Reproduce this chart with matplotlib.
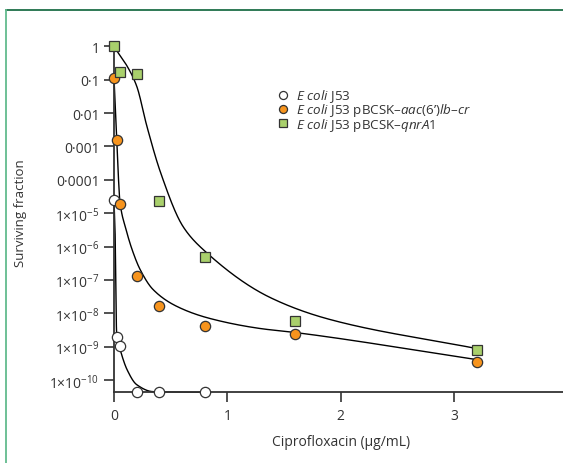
import numpy as np
import matplotlib
matplotlib.use("Agg")
import matplotlib.pyplot as plt
from matplotlib.lines import Line2D

plt.rcParams['font.family'] = ['Open Sans', 'DejaVu Sans']
plt.rcParams['mathtext.fontset'] = 'custom'
plt.rcParams['mathtext.rm'] = 'Open Sans'
plt.rcParams['mathtext.it'] = 'Open Sans:italic'

# ---- data ----
wt_x = [0, 0.025, 0.05, 0.2, 0.4, 0.8]
wt_y = [2.5e-5, 2.0e-9, 1.07e-9, 4.4e-11, 4.4e-11, 4.4e-11]

aac_x = [0, 0.025, 0.05, 0.2, 0.4, 0.8, 1.6, 3.2]
aac_y = [0.11, 1.6e-3, 1.9e-5, 1.3e-7, 1.7e-8, 4.2e-9, 2.5e-9, 3.6e-10]

qnr_x = [0, 0.05, 0.2, 0.4, 0.8, 1.6, 3.2]
qnr_y = [1.0, 0.17, 0.15, 2.3e-5, 4.8e-7, 5.9e-9, 8.0e-10]

# fitted curve knots (x, log10 y)
wt_fit_x = [0, 0.009, 0.024, 0.044, 0.115, 0.20, 0.344, 0.8]
wt_fit_ly = [-4.6, -5.48, -8.69, -8.96, -9.68, -10.13, -10.34, -10.36]

aac_fit_x = [0, 0.024, 0.053, 0.106, 0.159, 0.23, 0.344, 0.556, 0.847, 1.29, 1.6, 3.2]
aac_fit_ly = [-0.95, -2.78, -4.67, -5.48, -6.08, -6.68, -7.28, -7.79, -8.15, -8.45, -8.57, -9.38]

qnr_fit_x = [0, 0.026, 0.115, 0.20, 0.29, 0.41, 0.61, 0.785, 1.377, 1.906, 3.2]
qnr_fit_ly = [0, -0.14, -0.59, -1.19, -2.39, -3.77, -5.40, -6.08, -7.52, -8.18, -9.05]

ytick_vals = [1, 0.1, 0.01, 0.001, 1e-4, 1e-5, 1e-6, 1e-7, 1e-8, 1e-9, 1e-10]
ytick_labels = ["1", "0·1", "0·01", "0·001", "0·0001",
                r"1×10$^{-5}$", r"1×10$^{-6}$", r"1×10$^{-7}$", r"1×10$^{-8}$",
                r"1×10$^{-9}$", r"1×10$^{-10}$"]
xtick_vals = [0, 1, 2, 3, 4]
xtick_labels = ["0", "1", "2", "3", "4"]

labels = [r"$\mathit{E\ coli}$ J53",
          r"$\mathit{E\ coli}$ J53 pBCSK–$\mathit{aac(6’)lb–cr}$",
          r"$\mathit{E\ coli}$ J53 pBCSK–$\mathit{qnrA1}$"]


def pchip(x, y, xn):
    x = np.asarray(x, float); y = np.asarray(y, float)
    h = np.diff(x); d = np.diff(y) / h
    n = len(x); m = np.zeros(n)
    for k in range(1, n - 1):
        if d[k - 1] * d[k] > 0:
            w1 = 2 * h[k] + h[k - 1]; w2 = h[k] + 2 * h[k - 1]
            m[k] = (w1 + w2) / (w1 / d[k - 1] + w2 / d[k])
    m[0] = d[0]; m[-1] = d[-1]
    idx = np.clip(np.searchsorted(x, xn) - 1, 0, n - 2)
    t = (xn - x[idx]) / h[idx]
    h00 = 2 * t**3 - 3 * t**2 + 1; h10 = t**3 - 2 * t**2 + t
    h01 = -2 * t**3 + 3 * t**2; h11 = t**3 - t**2
    return h00 * y[idx] + h10 * h[idx] * m[idx] + h01 * y[idx + 1] + h11 * h[idx] * m[idx + 1]


fig = plt.figure(figsize=(5.63, 4.64), dpi=100)
W, H = 563, 464
ax = fig.add_axes([114 / W, (H - 393.3) / H, 453.2 / W, (393.3 - 47.3) / H])

ink = '#333333'
orange = '#F7941D'
green = '#A9D06C'

for fx, fly in [(wt_fit_x, wt_fit_ly), (aac_fit_x, aac_fit_ly), (qnr_fit_x, qnr_fit_ly)]:
    xn = np.linspace(fx[0], fx[-1], 800)
    ax.plot(xn, 10 ** pchip(fx, fly, xn), color='black', lw=1.0, zorder=2, clip_on=False)

ms = 7.4
ax.plot(wt_x, wt_y, 'o', ms=ms, mfc='white', mec=ink, mew=0.9, ls='none', zorder=4, clip_on=False)
ax.plot(aac_x, aac_y, 'o', ms=ms, mfc=orange, mec=ink, mew=0.9, ls='none', zorder=4, clip_on=False)
ax.plot(qnr_x, qnr_y, 's', ms=ms - 0.4, mfc=green, mec=ink, mew=0.9, ls='none', zorder=5, clip_on=False)

ax.set_yscale('log')
ax.set_ylim(10 ** -10.36, 1.0)
ax.set_xlim(0, 4)
ax.set_yticks(ytick_vals)
ax.set_yticklabels(ytick_labels)
ax.yaxis.set_minor_locator(matplotlib.ticker.NullLocator())
ax.set_xticks(xtick_vals)
ax.set_xticklabels(xtick_labels)

for s in ['top', 'right']:
    ax.spines[s].set_visible(False)
for s in ['left', 'bottom']:
    ax.spines[s].set_color(ink)
    ax.spines[s].set_linewidth(1.3)
ax.tick_params(axis='both', direction='out', length=7.5, width=1.2, color=ink,
               labelsize=10, labelcolor=ink)
ax.tick_params(axis='x', pad=4)
ax.tick_params(axis='y', pad=3)

ax.set_xlabel("Ciprofloxacin (μg/mL)", fontsize=10, color=ink, labelpad=8)
ax.set_ylabel("Surviving fraction", fontsize=9.5, color=ink)
ax.yaxis.set_label_coords(-87 / 453.2, 0.52)

handles = [
    Line2D([], [], marker='o', ls='none', ms=5.8, mfc='white', mec=ink, mew=0.9),
    Line2D([], [], marker='o', ls='none', ms=5.8, mfc=orange, mec=ink, mew=0.9),
    Line2D([], [], marker='s', ls='none', ms=5.2, mfc=green, mec=ink, mew=0.9),
]
leg = ax.legend(handles, labels, loc='upper left',
                bbox_to_anchor=((278 - 114) / 453.2, 1 - (88.5 - 47.3) / 346),
                frameon=False, fontsize=9.6, handlelength=0.8, handletextpad=0.55,
                labelspacing=-0.22, borderaxespad=0, borderpad=0)
for t in leg.get_texts():
    t.set_color(ink)

# figure frame
fig.add_artist(Line2D([6 / W, 1], [1 - 11 / H, 1 - 11 / H], transform=fig.transFigure,
                      color='#1E6E48', lw=1.3))
fig.add_artist(Line2D([6 / W, 6 / W], [0, 1 - 11 / H], transform=fig.transFigure,
                      color='#62BB8D', lw=1.3))

fig.savefig('out.png', dpi=100)
